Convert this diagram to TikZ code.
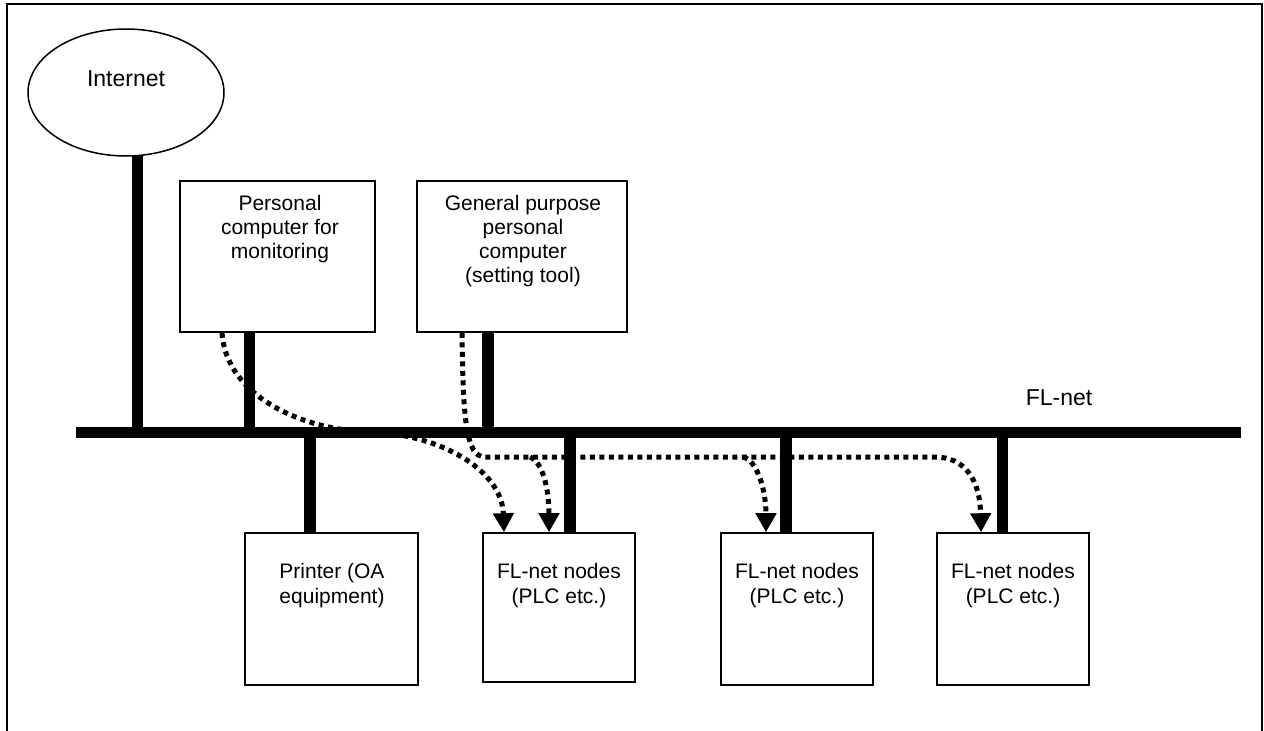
\documentclass[tikz,border=0pt]{standalone}
\usepackage{fontspec}
\setmainfont{Liberation Sans}
\usetikzlibrary{arrows.meta,shapes.geometric}
\begin{document}
\begin{tikzpicture}[x=1pt,y=-1pt,
  unit/.style={draw, line width=1.6pt, inner sep=0pt, rectangle},
  txt/.style={font=\fontsize{21}{24}\selectfont, align=center, inner sep=0pt, anchor=north},
  txtb/.style={font=\fontsize{21}{25}\selectfont, align=center, inner sep=0pt, anchor=north},
  big/.style={font=\fontsize{23}{27}\selectfont, inner sep=0pt},
  bus/.style={line width=11.5pt},
  flow/.style={line width=5pt, dash pattern=on 5pt off 4.5pt},
  flowarrow/.style={flow, -{Triangle[length=19pt,width=20pt]}}]
\useasboundingbox (0,0) rectangle (1264,731);
% frame (open at the bottom)
\draw[line width=1.5pt] (7,731) -- (7,4) -- (1262,4) -- (1262,731);

% nodes
\node[unit, ellipse, line width=1.5pt, minimum width=196pt, minimum height=127pt] (internet) at (126,92.5) {};
\node[big] (internettxt) at (126,79) {Internet};
\node[unit, minimum width=195pt, minimum height=151pt] (pcmon) at (277.5,256.5) {};
\node[txt] (pcmontxt) at (280,195) {Personal\\computer for\\monitoring};
\node[unit, minimum width=210pt, minimum height=151pt] (gp) at (522,256.5) {};
\node[txt] (gptxt) at (523,195) {General purpose\\personal\\computer\\(setting tool)};
\node[unit, minimum width=173pt, minimum height=152pt] (printer) at (331.5,609) {};
\node[txtb] (printertxt) at (332,563) {Printer (OA\\equipment)};
\node[unit, minimum width=152pt, minimum height=149pt] (nodes1) at (559,607.5) {};
\node[txtb] (nodes1txt) at (559,563) {FL-net nodes\\(PLC etc.)};
\node[unit, minimum width=152pt, minimum height=152pt] (nodes2) at (797,609) {};
\node[txtb] (nodes2txt) at (797,563) {FL-net nodes\\(PLC etc.)};
\node[unit, minimum width=152pt, minimum height=152pt] (nodes3) at (1013,609) {};
\node[txtb] (nodes3txt) at (1013,563) {FL-net nodes\\(PLC etc.)};
\node[big] (flnet) at (1059,397.5) {FL-net};

% bus
\coordinate (busL) at (76,432.5);
\coordinate (busR) at (1241,432.5);
\draw[bus] (busL) -- (busR);

% drops
\coordinate (dInet) at (137.5,155.3);
\coordinate (dPc) at (249.5,0);
\coordinate (dGp) at (488,0);
\coordinate (dPr) at (310,0);
\coordinate (dN1) at (570,0);
\coordinate (dN2) at (786,0);
\coordinate (dN3) at (1002.5,0);
\draw[bus] (dInet) -- (dInet |- busL);
\draw[bus] (pcmon.south -| dPc) -- (dPc |- busL);
\draw[bus] (gp.south -| dGp) -- (dGp |- busL);
\draw[bus] (dPr |- busL) -- (printer.north -| dPr);
\draw[bus] (dN1 |- busL) -- (nodes1.north -| dN1);
\draw[bus] (dN2 |- busL) -- (nodes2.north -| dN2);
\draw[bus] (dN3 |- busL) -- (nodes3.north -| dN3);

% data flows
\coordinate (pcOut) at (222,0);
\coordinate (gpOut) at (462,0);
\coordinate (n1a) at (504,0);
\coordinate (n1b) at (549,0);
\coordinate (n2a) at (766,0);
\coordinate (n3a) at (981,0);
\coordinate (br1) at (530,457);
\coordinate (br2) at (743,457);
\draw[flowarrow] (pcmon.south -| pcOut) .. controls (226,395) and (300,430) .. (370,432)
  .. controls (440,434) and (502,470) .. (nodes1.north -| n1a);
\draw[flowarrow] (gp.south -| gpOut) .. controls (463,420) and (466,457) .. (485,457)
  -- (935,457) .. controls (965,457) and (980,480) .. (nodes3.north -| n3a);
\draw[flowarrow] (br1) .. controls (543,462) and (549,490) .. (nodes1.north -| n1b);
\draw[flowarrow] (br2) .. controls (757,460) and (766,490) .. (nodes2.north -| n2a);
\end{tikzpicture}
\end{document}
